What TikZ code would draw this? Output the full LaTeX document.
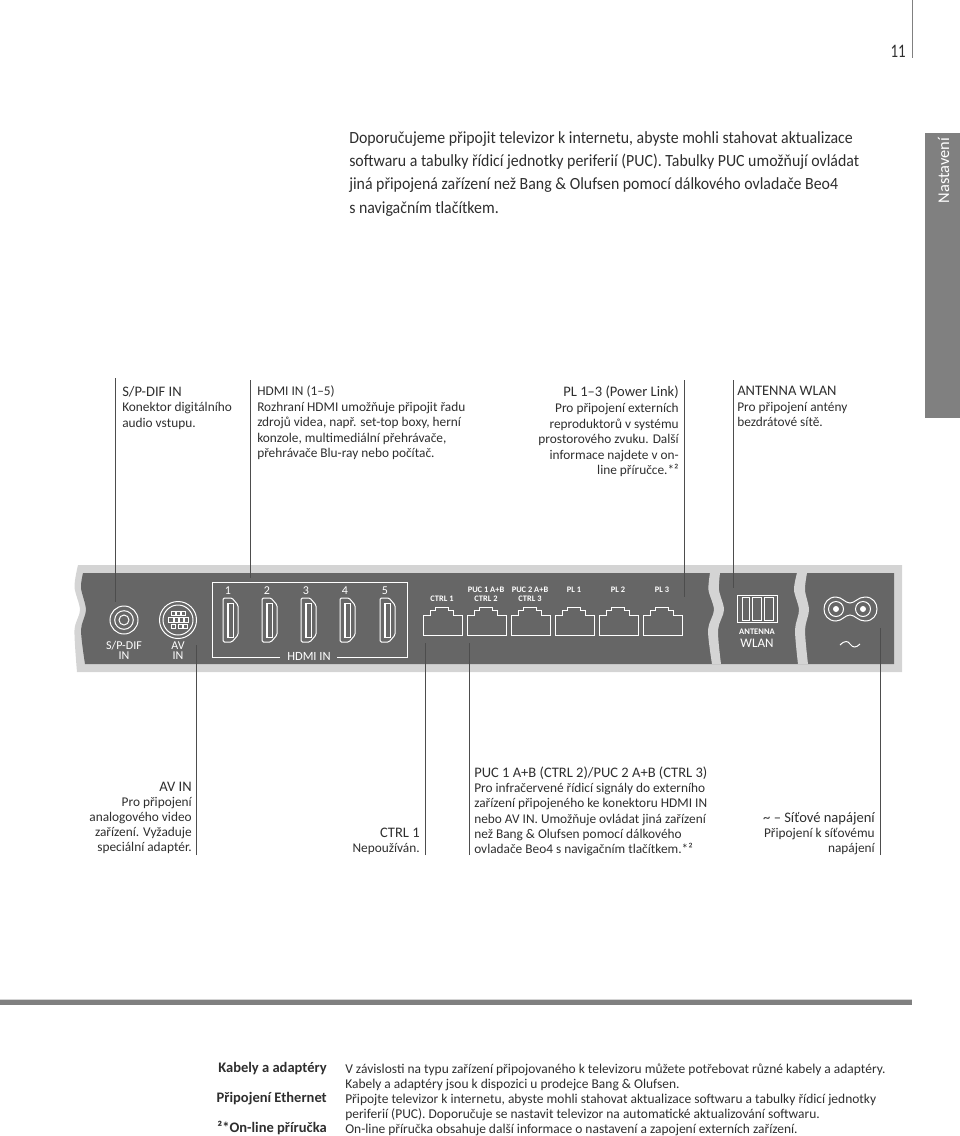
\documentclass[tikz,border=0pt]{standalone}
\usepackage{fontspec}
\setmainfont{Carlito}
\newfontfamily\bodyf[FakeStretch=0.93]{Carlito}
\newfontfamily\numf[FakeStretch=0.78]{Carlito}
\usetikzlibrary{calc}
\definecolor{txt}{HTML}{2E2E2E}
\definecolor{paneld}{HTML}{666666}
\definecolor{panell}{HTML}{D4D4D4}
\definecolor{tabgrey}{HTML}{808080}
\newcommand{\pxu}{*0.75pt}
\newcommand{\hdr}[1]{{\fontsize{10.9pt}{11.7pt}\selectfont #1}}
\newcommand{\hdmiicon}[2]{%
 \node[iconbox,minimum width=15\pxu,minimum height=44\pxu] (#2) at (#1,620) {};
 \begin{scope}[shift={(#1,620)}]
 \draw[icon,rounded corners=1pt] (-7.5,-22) -- (1.5,-22) -- (7.5,-15) -- (7.5,15) -- (1.5,22) -- (-7.5,22) -- cycle;
 \draw[icon,line width=0.6pt] (-3.5,-17) rectangle (2.5,17);
 \fill[white] (-3.5,-17) rectangle (-1.2,17);
 \end{scope}}
\newcommand{\rjicon}[2]{%
 \node[iconbox,minimum width=39\pxu,minimum height=28\pxu] (#2) at (#1+19.5,621) {};
 \draw[icon] (#1,615) -- ++(7,0) -- ++(0,-5) -- ++(5,0) -- ++(0,-3) -- ++(13,0) -- ++(0,3) -- ++(5,0) -- ++(0,5) -- ++(9,0) -- ++(0,20) -- ++(-39,0) -- cycle;}
\tikzset{
 x=0.75pt,y=-0.75pt,
 bodytext/.style={anchor=north west,inner sep=0pt,align=left,text=txt,font=\bodyf\fontsize{12.8pt}{17.55pt}\selectfont},
 captext/.style={anchor=north west,inner sep=0pt,align=left,text=txt,font=\fontsize{10pt}{11.7pt}\selectfont},
 captextr/.style={anchor=north east,inner sep=0pt,align=right,text=txt,font=\fontsize{10pt}{11.7pt}\selectfont},
 lowtext/.style={anchor=north west,inner sep=0pt,align=left,text=txt,font=\fontsize{10pt}{11.4pt}\selectfont},
 lowtextr/.style={anchor=north east,inner sep=0pt,align=right,text=txt,font=\fontsize{10pt}{11.4pt}\selectfont},
 foottext/.style={anchor=north west,inner sep=0pt,align=left,text=txt,font=\fontsize{10.1pt}{11.25pt}\selectfont},
 footbold/.style={anchor=north east,inner sep=0pt,align=right,text=txt,font=\bfseries\fontsize{10.9pt}{11.25pt}\selectfont},
 plab/.style={inner sep=0pt,text=white,align=center,font=\fontsize{9pt}{7.5pt}\selectfont},
 plabs/.style={inner sep=0pt,text=white,align=center,font=\bfseries\fontsize{6.3pt}{6.8pt}\selectfont},
 icon/.style={draw=white,line width=0.75pt,fill=none},
 iconbox/.style={inner sep=0pt,draw=none},
 leadline/.style={draw=txt!85!white,line width=0.5pt},
}
\begin{document}
\begin{tikzpicture}
\useasboundingbox (0,0) rectangle (960,1136);
% page furniture
\fill[tabgrey] (925,133) rectangle (960,418);
\node[inner sep=0pt,rotate=90,text=white,font=\fontsize{12.3pt}{14pt}\selectfont] (tab) at (943.5,170.5) {Nastavení};
\coordinate (pgtop) at (912.5,0);
\coordinate (pgbot) at (912.5,58);
\draw[draw=tabgrey,line width=0.6pt] (pgtop) -- (pgbot);
\node[anchor=base east,inner sep=0pt,text=txt,font=\numf\fontsize{14.3pt}{16pt}\selectfont] (pageno) at (906,57) {11};
% body
\node[bodytext] (intro) at (349,131) {Doporučujeme připojit televizor k internetu, abyste mohli stahovat aktualizace\\
softwaru a tabulky řídicí jednotky periferií (PUC). Tabulky PUC umožňují ovládat\\
jiná připojená zařízení než Bang \& Olufsen pomocí dálkového ovladače Beo4\\
s navigačním tlačítkem.};
% captions
\node[captext] (c1) at (122,386) {\hdr{S/P-DIF IN}\\Konektor digitálního\\audio vstupu.};
\node[captext] (c2) at (257,385.5) {HDMI IN (1–5)\\Rozhraní HDMI umožňuje připojit řadu\\zdrojů videa, např. set-top boxy, herní\\konzole, multimediální přehrávače,\\přehrávače Blu-ray nebo počítač.};
\node[captextr] (c3) at (679,386) {\hdr{PL 1–3 (Power Link)}\\Pro připojení externích\\reproduktorů v systému\\prostorového zvuku. Další\\informace najdete v on-\\line příručce.*²};
\node[captext] (c4) at (737,386) {\hdr{ANTENNA WLAN}\\Pro připojení antény\\bezdrátové sítě.};
\node[lowtextr] (c5) at (192,781.5) {\hdr{AV IN}\\Pro připojení\\analogového video\\zařízení. Vyžaduje\\speciální adaptér.};
\node[lowtextr] (c6) at (420,827.5) {\hdr{CTRL 1}\\Nepoužíván.};
\node[lowtext] (c7) at (474,766.5) {\hdr{PUC 1 A+B (CTRL 2)/PUC 2 A+B (CTRL 3)}\\Pro infračervené řídicí signály do externího\\zařízení připojeného ke konektoru HDMI IN\\nebo AV IN. Umožňuje ovládat jiná zařízení\\než Bang \& Olufsen pomocí dálkového\\ovladače Beo4 s navigačním tlačítkem.*²};
\node[lowtextr] (c8) at (875,812) {\hdr{\textasciitilde{} – Síťové napájení}\\Připojení k síťovému\\napájení};
% panel
\fill[panell] plot[smooth] coordinates {(78,565) (74.5,587) (80,610) (74.5,630) (77,672)} -- (902,672) -- (902,565) -- cycle;
\fill[paneld] plot[smooth] coordinates {(83,573) (81,588) (86,610) (81,630) (85,664)} -- (894,664) -- (894,573) -- cycle;
\fill[panell] plot[smooth] coordinates {(710,573) (708.5,590) (714,610) (708,630) (712,664)} -- plot[smooth] coordinates {(721,664) (718,630) (724,610) (719,590) (720,573)} -- cycle;
\fill[panell] plot[smooth] coordinates {(797,573) (794,590) (799,610) (795,630) (798,664)} -- plot[smooth] coordinates {(808,664) (805,630) (809,610) (805,590) (807,573)} -- cycle;
% S/P-DIF jack
\node[circle,draw=white,line width=0.75pt,minimum size=28\pxu,inner sep=0pt] (jack) at (124,620) {};
\draw[icon] (jack.center) circle (9.3) circle (5);
\node[plab] (ljack) at (124,650.5) {S/P-DIF\\IN};
% AV socket
\node[circle,draw=white,line width=0.75pt,minimum size=37\pxu,inner sep=0pt] (av) at (178,620) {};
\draw[icon] (av.center) circle (15);
\draw[icon,line width=0.5pt] (171,611) rectangle (175,615) (176,611) rectangle (180,615) (181,611) rectangle (185,615)
 (168,617) rectangle (173,622) (174,617) rectangle (178,622) (179,617) rectangle (183,622) (184,617) rectangle (188,622)
 (171,624) rectangle (175,628) (178,624) rectangle (182,628) (183,624) rectangle (187,628);
\node[plab] (lav) at (178,650.5) {AV\\IN};
% HDMI
\draw[draw=white,line width=0.75pt] (280,657) -- (212,657) -- (212,582) -- (407,582) -- (407,657) -- (337,657);
\coordinate (hdmitop) at (250.5,582);
\foreach \n/\x in {1/228,2/267,3/306,4/345,5/385}{
 \node[inner sep=0pt,text=white,font=\fontsize{9pt}{10pt}\selectfont] (num\n) at (\x,591) {\n};
 \hdmiicon{\x+2.5}{hd\n}
}
\node[inner sep=0pt,text=white,font=\fontsize{9.4pt}{10pt}\selectfont] (lhd) at (309,656) {HDMI IN};
% RJ sockets
\rjicon{423}{rj1}
\rjicon{467}{rj2}
\rjicon{511}{rj3}
\rjicon{555}{rj4}
\rjicon{599}{rj5}
\rjicon{643}{rj6}
\node[plabs] (l1) at (442,599) {CTRL 1};
\node[plabs] (l2) at (486,594.5) {PUC 1 A+B\\CTRL 2};
\node[plabs] (l3) at (530,594.5) {PUC 2 A+B\\CTRL 3};
\node[plabs] (l4) at (574,590) {PL 1};
\node[plabs] (l5) at (618,590) {PL 2};
\node[plabs] (l6) at (662,590) {PL 3};
% antenna
\node[draw=white,line width=0.75pt,minimum width=40\pxu,minimum height=27\pxu,inner sep=0pt] (ant) at (757,608.5) {};
\draw[icon] (742,597) rectangle (749,620) (752,597) rectangle (761,620) (764,597) rectangle (773,620);
\node[plabs,font=\bfseries\fontsize{6.4pt}{7pt}\selectfont] (lant) at (757,632) {ANTENNA};
\node[plab,font=\fontsize{9.8pt}{10pt}\selectfont] (lw) at (757,643.5) {WLAN};
% power socket
\node[iconbox,minimum width=53\pxu,minimum height=24\pxu] (pw) at (850,609) {};
\draw[icon] (836,597) .. controls (842,597) and (845,603) .. (850,603) .. controls (855,603) and (858,597) .. (865,597)
 .. controls (873,597) and (877,603) .. (877,609) .. controls (877,615) and (873,621) .. (865,621)
 .. controls (858,621) and (855,615) .. (850,615) .. controls (845,615) and (842,621) .. (836,621)
 .. controls (828,621) and (824,615) .. (824,609) .. controls (824,603) and (828,597) .. (836,597) -- cycle;
\draw[icon] (836,609) circle (7.5) (863,609) circle (7.5);
\fill[white] (836,609) circle (3) (863,609) circle (3);
\draw[icon] (840,645) .. controls (845,640) and (848,641) .. (850,644) .. controls (853,648) and (856,648) .. (860,644);
\coordinate (pwr) at (880,628);
% connectors
\coordinate (t1) at (115.5,378); \coordinate (e1) at (115.5,602);
\coordinate (t2) at (250.5,380); \coordinate (e2) at (250.5,578);
\coordinate (t3) at (684,380); \coordinate (e3) at (684,597);
\coordinate (t4) at (733,380); \coordinate (e4) at (733,588);
\coordinate (b5) at (196.5,855); \coordinate (e5) at (196.5,645);
\coordinate (b6) at (425,855); \coordinate (e6) at (425,643);
\coordinate (b7) at (469,855); \coordinate (e7) at (469,643);
\coordinate (b8) at (880,855);
\draw[leadline] (t1) -- (e1);
\draw[leadline] (t2) -- (e2);
\draw[leadline] (t3) -- (e3);
\draw[leadline] (t4) -- (e4);
\draw[leadline] (b5) -- (e5);
\draw[leadline] (b6) -- (e6);
\draw[leadline] (b7) -- (e7);
\draw[leadline] (b8) -- (pwr);
% footer
\fill[panell] (0,999) rectangle (912,1001);
\fill[tabgrey] (0,1000) rectangle (912,1005);
\node[footbold] (fb1) at (327,1062) {Kabely a adaptéry};
\node[footbold] (fb2) at (327,1092) {Připojení Ethernet};
\node[footbold] (fb3) at (327,1120.5) {²*On-line příručka};
\node[foottext] (ft) at (345,1063.5) {V závislosti na typu zařízení připojovaného k televizoru můžete potřebovat různé kabely a adaptéry.\\
Kabely a adaptéry jsou k dispozici u prodejce Bang \& Olufsen.\\
Připojte televizor k internetu, abyste mohli stahovat aktualizace softwaru a tabulky řídicí jednotky\\
periferií (PUC). Doporučuje se nastavit televizor na automatické aktualizování softwaru.\\
On-line příručka obsahuje další informace o nastavení a zapojení externích zařízení.};
\end{tikzpicture}
\end{document}
